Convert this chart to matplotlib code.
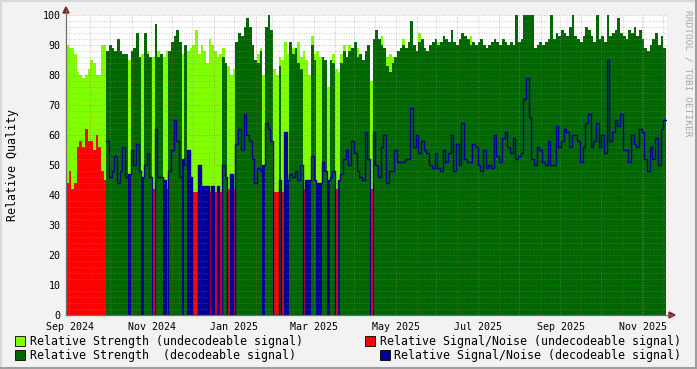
#%%
import numpy as np
import pandas as pd
import matplotlib
matplotlib.use('Agg')
import matplotlib.pyplot as plt
import matplotlib.dates as mdates
from matplotlib.lines import Line2D
from matplotlib.patches import Rectangle, Polygon

#%% Dados (valores em passos de 2 dias a partir de 13/09/2024)
start = '2024-09-13'

strength_undec = [
    90, 89, 89, 87, 81, 80, 79, 80, 82, 85,
    84, 80, 80, 90, 90, 0, 0, 0, 0, 0,
    0, 0, 0, 85, 0, 0, 0, 0, 87, 0,
    88, 0, 86, 0, 88, 0, 86, 88, 0, 0,
    0, 0, 0, 87, 0, 88, 89, 90, 95, 87,
    90, 88, 84, 92, 90, 88, 86, 87, 89, 0,
    83, 80, 82, 0, 0, 0, 0, 0, 0, 0,
    0, 87, 89, 80, 0, 0, 0, 82, 80, 86,
    85, 91, 87, 0, 89, 0, 91, 86, 88, 85,
    80, 93, 87, 88, 86, 0, 0, 76, 0, 87,
    82, 81, 87, 90, 0, 90, 0, 0, 89, 0,
    0, 0, 0, 78, 0, 0, 0, 93, 0, 86,
    87, 86, 0, 0, 0, 92, 0, 0, 0, 0,
    0, 94, 0, 0, 0, 0, 0, 0, 91, 0,
    0, 0, 0, 0, 0, 0, 0, 0, 0, 0,
    93, 0, 0, 0, 0, 0, 0, 0, 0, 0,
    0, 0, 0, 0, 0, 0, 0, 0, 0, 0,
    0, 0, 0, 0, 0, 0, 0, 0, 0, 0,
    0, 0, 0, 0, 0, 0, 0, 0, 0, 0,
    0, 0, 0, 0, 0, 0, 0, 0, 0, 0,
    0, 0, 0, 0, 0, 0, 0, 0, 0, 0,
    0, 0, 0, 0, 0, 0, 0, 0, 0, 0,
    0, 0, 0,
]

snr_undec = [
    44, 48, 42, 44, 56, 58, 56, 62, 58, 58,
    55, 60, 56, 48, 45, 0, 0, 0, 0, 0,
    0, 0, 0, 0, 0, 0, 0, 0, 0, 0,
    0, 0, 42, 0, 0, 0, 0, 42, 0, 0,
    0, 0, 0, 0, 0, 0, 0, 41, 41, 0,
    0, 0, 0, 41, 0, 41, 0, 41, 0, 0,
    42, 0, 42, 0, 0, 0, 0, 0, 0, 0,
    0, 0, 0, 0, 0, 0, 0, 41, 41, 0,
    41, 0, 0, 0, 0, 0, 0, 0, 42, 0,
    0, 0, 0, 0, 0, 0, 0, 0, 0, 0,
    42, 0, 0, 0, 0, 0, 0, 0, 0, 0,
    0, 0, 0, 42, 0, 0, 0, 0, 0, 0,
    0, 0, 0, 0, 0, 0, 0, 0, 0, 0,
    0, 0, 0, 0, 0, 0, 0, 0, 0, 0,
    0, 0, 0, 0, 0, 0, 0, 0, 0, 0,
    0, 0, 0, 0, 0, 0, 0, 0, 0, 0,
    0, 0, 0, 0, 0, 0, 0, 0, 0, 0,
    0, 0, 0, 0, 0, 0, 0, 0, 0, 0,
    0, 0, 0, 0, 0, 0, 0, 0, 0, 0,
    0, 0, 0, 0, 0, 0, 0, 0, 0, 0,
    0, 0, 0, 0, 0, 0, 0, 0, 0, 0,
    0, 0, 0, 0, 0, 0, 0, 0, 0, 0,
    0, 0, 0,
]

strength_dec = [
    0, 0, 0, 0, 0, 0, 0, 0, 0, 0,
    0, 0, 0, 0, 0, 88, 90, 89, 88, 92,
    88, 87, 87, 0, 88, 89, 94, 86, 0, 94,
    87, 86, 0, 97, 86, 87, 0, 0, 88, 91,
    93, 95, 91, 0, 90, 0, 0, 0, 0, 0,
    0, 0, 0, 0, 0, 0, 0, 0, 86, 84,
    0, 0, 0, 91, 94, 93, 96, 99, 96, 90,
    85, 84, 88, 0, 96, 100, 95, 0, 0, 83,
    0, 0, 0, 91, 87, 89, 84, 82, 0, 0,
    0, 90, 85, 0, 0, 86, 85, 0, 85, 84,
    0, 0, 84, 88, 86, 88, 89, 91, 86, 87,
    85, 88, 90, 0, 92, 95, 92, 90, 89, 83,
    81, 84, 86, 88, 89, 90, 89, 91, 98, 90,
    88, 91, 92, 89, 88, 90, 91, 92, 90, 91,
    93, 92, 91, 95, 91, 90, 92, 94, 93, 92,
    90, 91, 90, 91, 92, 90, 89, 90, 91, 92,
    91, 90, 92, 91, 90, 91, 90, 100, 91, 92,
    100, 100, 100, 100, 89, 90, 91, 90, 91, 92,
    100, 92, 94, 93, 95, 94, 93, 96, 100, 93,
    92, 91, 93, 96, 95, 93, 91, 100, 92, 93,
    91, 100, 93, 94, 95, 99, 94, 93, 92, 95,
    94, 96, 93, 95, 92, 89, 88, 90, 92, 94,
    90, 93, 89,
]

snr_dec = [
    None, None, None, None, None, None, None, None, None, None,
    None, None, None, None, None, 58, 46, 48, 53, 44,
    48, 56, 46, 47, 55, 50, 57, 48, 46, 50,
    54, 46, 0, 62, 46, 46, 45, 0, 48, 55,
    65, 58, 46, 52, 50, 55, 46, 0, 0, 50,
    43, 43, 43, 0, 43, 0, 43, 0, 50, 46,
    0, 47, 0, 57, 62, 55, 67, 60, 58, 52,
    44, 49, 48, 50, 64, 62, 58, 0, 0, 45,
    0, 61, 45, 47, 46, 48, 45, 50, 0, 45,
    45, 53, 45, 44, 44, 51, 48, 45, 46, 48,
    0, 45, 47, 52, 55, 50, 58, 54, 48, 46,
    45, 61, 52, 0, 61, 50, 46, 56, 60, 44,
    48, 48, 55, 51, 51, 51, 52, 52, 69, 56,
    60, 54, 58, 55, 54, 50, 49, 54, 49, 48,
    55, 51, 54, 60, 48, 57, 50, 64, 52, 51,
    51, 57, 56, 50, 48, 55, 49, 50, 49, 60,
    53, 51, 59, 61, 56, 54, 59, 52, 53, 54,
    72, 79, 66, 52, 50, 56, 55, 51, 50, 58,
    50, 50, 63, 56, 58, 62, 61, 56, 60, 60,
    58, 51, 56, 64, 67, 56, 58, 64, 56, 60,
    54, 85, 58, 61, 65, 63, 67, 55, 55, 51,
    60, 57, 56, 62, 61, 52, 48, 56, 52, 59,
    50, 62, 65,
]

x_labels = ['Sep 2024', 'Nov 2024', 'Jan 2025', 'Mar 2025',
            'May 2025', 'Jul 2025', 'Sep 2025', 'Nov 2025']

legend_items = [
    ('Relative Strength (undecodeable signal)', '#80FF00'),
    ('Relative Signal/Noise (undecodeable signal)', '#FF0000'),
    ('Relative Strength  (decodeable signal)', '#006600'),
    ('Relative Signal/Noise (decodeable signal)', '#000099'),
]

#%% Preparo
lg = np.array(strength_undec, dtype=float)
rd = np.array(snr_undec, dtype=float)
dg = np.array(strength_dec, dtype=float)
bl = np.array(snr_dec, dtype=float)

dates = pd.date_range(start, periods=len(dg), freq='2D')
x = mdates.date2num(dates)
x0 = x[0]
x1 = x0 + 446.8

W, H = 697, 369
fx = lambda px: px / W
fy = lambda py: 1 - py / H

C_LG, C_RD, C_DG, C_BL = '#80FF00', '#FF0000', '#006600', '#000099'
mono = 'DejaVu Sans Mono'

#%% Gráfico
fig = plt.figure(figsize=(W / 100, H / 100), dpi=100, facecolor='#F2F2F2')
ax = fig.add_axes([fx(66), fy(315), fx(667) - fx(66), fy(15) - fy(315)])
ax.set_facecolor('white')

kw = dict(width=2, align='edge', linewidth=0, antialiased=False)
ax.bar(x, lg, color=C_LG, zorder=1, **kw)
ax.bar(x, rd, color=C_RD, zorder=1.1, **kw)
blue_fill = np.where((dg == 0) & ~np.isnan(bl), bl, 0)
ax.bar(x, blue_fill, color=C_BL, zorder=1.2, **kw)
ax.bar(x, dg, color=C_DG, zorder=1.3, **kw)

xs = np.append(x, x[-1] + 2)
ys = np.append(bl, bl[-1])
ax.step(xs, ys, where='post', color=C_BL, lw=1.0, zorder=4)

ax.set_xlim(x0, x1)
ax.set_ylim(0, 100)

# grades
for v in range(2, 100, 2):
    if v % 10:
        ax.axhline(v, color='#909090', lw=0.6, ls=(0, (1, 2)), alpha=0.6, zorder=3)
for v in range(10, 101, 10):
    ax.axhline(v, color='#D04040', lw=0.6, ls=(0, (1, 2)), alpha=0.55, zorder=3)

months = pd.date_range('2024-10-01', '2025-12-01', freq='MS')
for m in months:
    ax.axvline(mdates.date2num(m), color='#D04040', lw=0.6, ls=(0, (1, 2)), alpha=0.55, zorder=3)
    mid = mdates.date2num(m - pd.Timedelta(days=16))
    if mid > x0:
        ax.axvline(mid, color='#909090', lw=0.6, ls=(0, (1, 2)), alpha=0.6, zorder=3)
ax.axvline(mdates.date2num(pd.Timestamp('2025-11-16')), color='#909090', lw=0.6,
           ls=(0, (1, 2)), alpha=0.6, zorder=3)

label_pos = [mdates.date2num(pd.Timestamp(d)) for d in
             ['2024-09-16', '2024-11-16', '2025-01-16', '2025-03-16',
              '2025-05-16', '2025-07-16', '2025-09-16', '2025-11-16']]
ax.set_xticks(label_pos)
ax.set_xticklabels(x_labels, fontfamily=mono, fontsize=7.2)
ax.set_yticks(range(0, 101, 10))
ax.set_yticklabels([str(v) for v in range(0, 101, 10)], fontfamily=mono, fontsize=7.2)
ax.tick_params(axis='both', length=0)
ax.tick_params(axis='x', pad=5)
ax.tick_params(axis='y', pad=4)
for s in ax.spines.values():
    s.set_visible(False)

ax.set_ylabel('Relative Quality', fontfamily=mono, fontsize=8.4, labelpad=17)

# eixos e setas
fig.add_artist(Line2D([fx(66), fx(66)], [fy(315), fy(10)], color='#6E6E6E', lw=0.9))
fig.add_artist(Line2D([fx(66), fx(672)], [fy(315), fy(315)], color='#6E6E6E', lw=0.9))
fig.add_artist(Polygon([(fx(63), fy(13)), (fx(69), fy(13)), (fx(66), fy(7))],
                       closed=True, color='#8B2020', transform=fig.transFigure))
fig.add_artist(Polygon([(fx(669), fy(312)), (fx(669), fy(318)), (fx(675), fy(315))],
                       closed=True, color='#8B2020', transform=fig.transFigure))

# legenda
rows = [341, 341, 355, 355]
for i, (label, color) in enumerate(legend_items):
    yc = rows[i]
    if i % 2 == 0:
        sq_x, tx, ha = 15, 30, 'left'
    else:
        sq_x = 365 if i == 1 else 380
        tx, ha = 681, 'right'
    fig.add_artist(Rectangle((fx(sq_x), fy(yc + 5)), 10 / W, 10 / H, facecolor=color,
                             edgecolor='black', lw=0.6, transform=fig.transFigure))
    fig.text(fx(tx), fy(yc), label, ha=ha, va='center', fontfamily=mono, fontsize=8.4)

fig.text(fx(688), fy(73), 'RRDTOOL / TOBI OETIKER', rotation=270, ha='center', va='center',
         fontfamily=mono, fontsize=6.8, color='#A8A8A8')

# moldura
fig.add_artist(Line2D([0, 1], [fy(1), fy(1)], color='#D8D8D8', lw=1.5))
fig.add_artist(Line2D([fx(1), fx(1)], [0, 1], color='#D8D8D8', lw=1.5))
fig.add_artist(Line2D([0, 1], [fy(368), fy(368)], color='#9E9E9E', lw=1.5))
fig.add_artist(Line2D([fx(696), fx(696)], [0, 1], color='#9E9E9E', lw=1.5))

fig.savefig('out.png', dpi=100, facecolor=fig.get_facecolor())
